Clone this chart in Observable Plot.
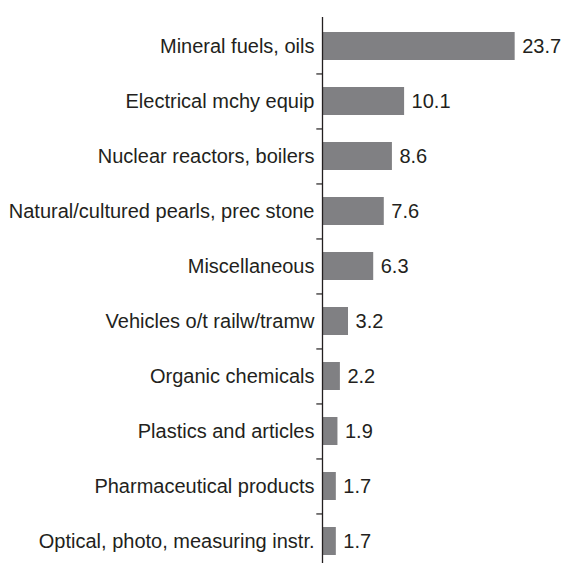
<!DOCTYPE html>
<html>
<head>
<meta charset="utf-8">
<script src="https://cdn.jsdelivr.net/npm/d3@7"></script>
<script src="https://cdn.jsdelivr.net/npm/@observablehq/plot@0.6"></script>
<style>
  html, body { margin: 0; padding: 0; background: #fff; }
  #chart svg { display: block; }
</style>
</head>
<body>
<div id="chart"></div>
<script>
const categories = [
  "Mineral fuels, oils",
  "Electrical mchy equip",
  "Nuclear reactors, boilers",
  "Natural/cultured pearls, prec stone",
  "Miscellaneous",
  "Vehicles o/t railw/tramw",
  "Organic chemicals",
  "Plastics and articles",
  "Pharmaceutical products",
  "Optical, photo, measuring instr."
];
const values = [23.7, 10.1, 8.6, 7.6, 6.3, 3.2, 2.2, 1.9, 1.7, 1.7];
const valueLabels = ["23.7", "10.1", "8.6", "7.6", "6.3", "3.2", "2.2", "1.9", "1.7", "1.7"];

const data = categories.map((c, i) => ({cat: c, value: values[i], label: valueLabels[i]}));

const yRange = [17.5, 568.5];
const step = (yRange[1] - yRange[0]) / categories.length;

const textColor = "#231f20";
const barColor = "#808083";
const fs = 20;

const chart = Plot.plot({
  width: 561,
  height: 563,
  marginLeft: 322,
  marginRight: 0,
  marginTop: 0,
  marginBottom: 0,
  style: {fontFamily: "'Liberation Sans', Arial, Helvetica, sans-serif", fontSize: fs + "px", color: textColor, background: "#fff"},
  x: {domain: [0, 29.4], axis: null},
  y: {domain: categories, range: yRange, paddingInner: 0.5, paddingOuter: 0.25, align: 0.5, label: null},
  marks: [
    Plot.barX(data, {x: "value", y: "cat", fill: barColor}),
    Plot.text(data, {x: "value", y: "cat", text: "label", textAnchor: "start", dx: 7, fontSize: fs, fill: textColor}),
    Plot.axisY({tickSize: 0, tickPadding: 8, fontSize: fs, fill: textColor, label: null}),
    Plot.ruleY(categories.slice(1), {y: d => d, x1: -0.7, x2: 0, dy: -step / 2, stroke: textColor, strokeWidth: 1.2}),
    Plot.ruleX([0], {stroke: textColor, strokeWidth: 1.3, insetTop: 17})
  ]
});
document.getElementById("chart").appendChild(chart);
</script>
</body>
</html>
